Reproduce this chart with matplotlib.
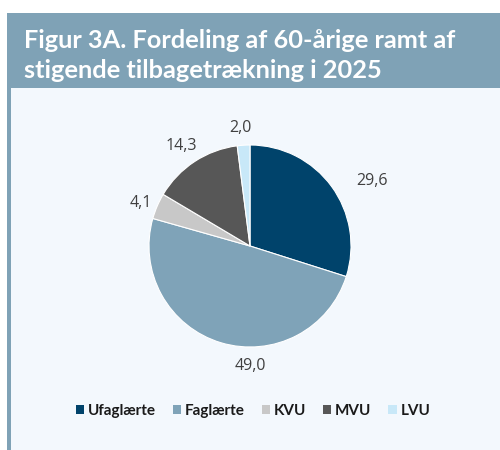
import matplotlib
matplotlib.use("Agg")
import matplotlib.pyplot as plt
from matplotlib.patches import Rectangle, Patch

categories = ["Ufaglærte", "Faglærte", "KVU", "MVU", "LVU"]
values = [29.6, 49.0, 4.1, 14.3, 2.0]
colors = ["#00436b", "#7fa3b8", "#c8c8c8", "#575757", "#c8e8f8"]
label_offsets = [(0.24, -0.065), (0.345, -0.04), (0.023, -0.048), (-0.025, -0.013), (-0.014, -0.03)]
title_lines = ["Figur 3A. Fordeling af 60-årige ramt af", "stigende tilbagetrækning i 2025"]

W, H = 500, 450
fig = plt.figure(figsize=(W / 100, H / 100), dpi=100)
fig.patch.set_facecolor("white")

header_c = "#7fa2b6"
panel_c = "#f3f8fd"
fig.patches.append(Rectangle((11 / W, 0), (W - 11) / W, (H - 88) / H, transform=fig.transFigure,
                             facecolor=panel_c, edgecolor="none", zorder=-2))
fig.patches.append(Rectangle((7 / W, 0), 4 / W, (H - 88) / H, transform=fig.transFigure,
                             facecolor=header_c, edgecolor="none", zorder=-2))
fig.patches.append(Rectangle((7 / W, (H - 88) / H), (W - 7) / W, 75 / H, transform=fig.transFigure,
                             facecolor=header_c, edgecolor="none", zorder=-2))

for i, line in enumerate(title_lines):
    fig.text(24 / W, 1 - (48 + 30 * i) / H, line, ha="left", va="baseline", color="white",
             fontsize=18.3, fontweight="bold", family=["Lato", "DejaVu Sans"])

cx, cy, r = 250, 246, 101
ax = fig.add_axes([(cx - r) / W, (H - cy - r) / H, 2 * r / W, 2 * r / H])
ax.set_zorder(2)
ax.set_facecolor("none")
labels = [f"{v:.1f}".replace(".", ",") for v in values]
wedges, texts = ax.pie(values, colors=colors, startangle=90, counterclock=False,
                       labels=labels, labeldistance=1.2,
                       wedgeprops=dict(edgecolor="white", linewidth=0.8),
                       textprops=dict(fontsize=11.5, color="#404040", family=["Open Sans", "DejaVu Sans"]))
for t, (dx, dy) in zip(texts, label_offsets):
    x, y = t.get_position()
    t.set_position((x + dx, y + dy))
    t.set_ha("center")
    t.set_va("center")
    t.set_clip_on(False)
ax.set_xlim(-1, 1)
ax.set_ylim(-1, 1)
ax.set_aspect("equal")
ax.axis("off")

handles = [Patch(facecolor=c, edgecolor="none") for c in colors]
fig.legend(handles, categories, loc="center", bbox_to_anchor=(253 / W, 1 - 411 / H), ncol=5,
           frameon=False, handlelength=0.55, handleheight=0.55, handletextpad=0.25, columnspacing=1.1,
           prop=dict(family=["Lato", "DejaVu Sans"], weight="bold", size=11), labelcolor="#1a1a1a")

fig.savefig("out.png", dpi=100)
